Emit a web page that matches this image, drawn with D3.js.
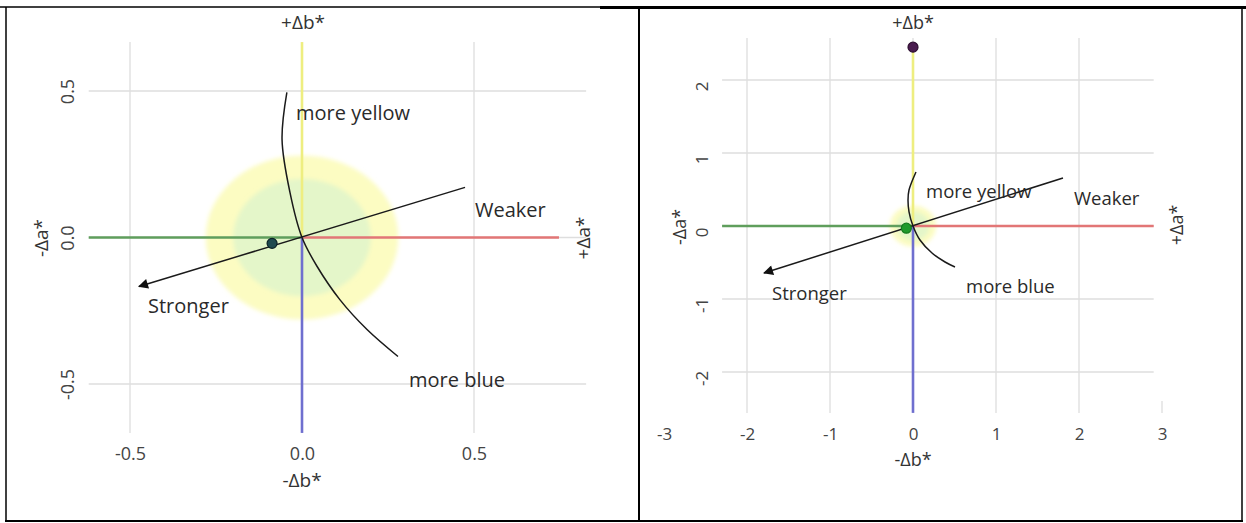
<!DOCTYPE html>
<html>
<head>
<meta charset="utf-8">
<script src="https://cdn.jsdelivr.net/npm/d3@7"></script>
<style>
  body { margin: 0; background: #fff; }
  svg { display: block; }
  text { font-family: 'Open Sans', 'Noto Sans', sans-serif; }
</style>
</head>
<body>
<svg id="chart" width="1246" height="523"></svg>
<script>
// left panel, zoomed in around the standard
const leftTicks = [-0.5, 0, 0.5];
const leftSamples = [[-0.087, -0.02]];
const leftHueArc = [[-0.044, 0.495], [-0.058, 0.334], [-0.035, 0.154], [0, 0],
  [0.044, -0.099], [0.11, -0.212], [0.189, -0.314], [0.279, -0.406]];
const leftChromaArrow = [[0.474, 0.171], [-0.474, -0.167]];

// right panel, wider view
const rightXTicks = [-3, -2, -1, 0, 1, 2, 3];
const rightYTicks = [-2, -1, 0, 1, 2];
const rightSamples = [[0, 2.45], [-0.08, -0.03]];
const rightHueArc = [[0.036, 0.74], [-0.048, 0.493], [-0.06, 0.356], [-0.048, 0.192], [0, 0],
  [0.084, -0.192], [0.229, -0.37], [0.386, -0.493], [0.506, -0.562]];
const rightChromaArrow = [[1.807, 0.658], [-1.795, -0.644]];

// tolerance zones round the standard (outer, inner)
const toleranceRadii = [0.28, 0.2];
const annotationTexts = ['more yellow', 'Weaker', 'Stronger', 'more blue'];

// plain hyphen for negatives, like the original
const locale = d3.formatLocale({ decimal: '.', thousands: ',', grouping: [3], currency: ['', ''], minus: '-' });

const svg = d3.select('#chart');
const defs = svg.append('defs');

defs.append('marker')
  .attr('id', 'arrowHead')
  .attr('viewBox', '0 0 10 10')
  .attr('refX', 9).attr('refY', 5)
  .attr('markerWidth', 15).attr('markerHeight', 10)
  .attr('markerUnits', 'userSpaceOnUse')
  .attr('orient', 'auto')
  .append('path')
  .attr('d', 'M0,0L10,5L0,10z')
  .attr('fill', '#111');

defs.append('filter').attr('id', 'soft')
  .attr('x', '-50%').attr('y', '-50%').attr('width', '200%').attr('height', '200%')
  .append('feGaussianBlur').attr('stdDeviation', 2);

const panels = [
  {
    x: d3.scaleLinear().domain([-0.5, 0.5]).range([130, 474]),
    y: d3.scaleLinear().domain([-0.5, 0.5]).range([384, 91]),
    xTicks: leftTicks, yTicks: leftTicks, fmt: locale.format('.1f'),
    xMin: -0.62, xMax: 0.826, yMin: -0.667, yMax: 0.667, redEnd: 0.747, yellowTop: 0.667,
    stub: null,
    samples: leftSamples, sampleFill: ['#1f4a4f'], sampleStroke: ['#0b2226'],
    arc: leftHueArc, arrow: leftChromaArrow,
    tickSize: 18, nameSize: 19, textSize: 20,
    xAxisY: 447, yLabelX: 68, yLabelOff: 0,
    bTop: [303, 29], bBottom: [302, 487], aLeft: [41, 238], aRight: [583, 238],
    labelPos: [[296, 120], [475, 217], [148, 313], [409, 387]]
  },
  {
    x: d3.scaleLinear().domain([-2, 2]).range([747, 1079]),
    y: d3.scaleLinear().domain([-2, 2]).range([372, 80]),
    xTicks: rightXTicks, yTicks: rightYTicks, fmt: locale.format('d'),
    xMin: -2.3, xMax: 2.9, yMin: -2.56, yMax: 2.575, redEnd: 2.9, yellowTop: rightSamples[0][1],
    stub: 3,
    samples: rightSamples, sampleFill: ['#4a1c4f', '#1f9a2c'], sampleStroke: ['#2e0f31', '#137a1e'],
    arc: rightHueArc, arrow: rightChromaArrow,
    tickSize: 17, nameSize: 18, textSize: 18.5,
    xAxisY: 428, yLabelX: 702, yLabelOff: 6,
    bTop: [913, 29], bBottom: [913, 466], aLeft: [680, 227], aRight: [1177, 225],
    labelPos: [[926, 198], [1074, 205], [772, 300], [966, 293]]
  }
];

panels.forEach(drawPanel);

function drawPanel(p) {
  const g = svg.append('g');
  const { x, y } = p;

  // grid
  g.selectAll('.vgrid')
    .data(p.xTicks.filter(d => d >= p.xMin && d <= p.xMax))
    .join('line')
    .attr('x1', d => x(d)).attr('x2', d => x(d))
    .attr('y1', y(p.yMax)).attr('y2', y(p.yMin))
    .attr('stroke', '#dedede').attr('stroke-width', 1.3);

  g.selectAll('.hgrid')
    .data(p.yTicks)
    .join('line')
    .attr('x1', x(p.xMin)).attr('x2', x(p.xMax))
    .attr('y1', d => y(d)).attr('y2', d => y(d))
    .attr('stroke', '#dedede').attr('stroke-width', 1.3);

  if (p.stub !== null) {
    g.append('line')
      .attr('x1', x(p.stub)).attr('x2', x(p.stub))
      .attr('y1', y(p.yMin) - 12).attr('y2', y(p.yMin))
      .attr('stroke', '#dedede').attr('stroke-width', 1.3);
  }

  // tolerance zones
  const cx = x(0), cy = y(0);
  g.selectAll('.zone')
    .data(toleranceRadii)
    .join('ellipse')
    .attr('cx', cx).attr('cy', cy)
    .attr('rx', d => x(d) - cx).attr('ry', d => cy - y(d))
    .attr('fill', (d, i) => i === 0 ? '#fcfcc2' : '#e4f6c9')
    .attr('filter', 'url(#soft)');

  // coloured half axes
  const half = [
    { a: [p.xMin, 0], b: [0, 0], c: '#5f9e5c' },
    { a: [0, 0], b: [p.redEnd, 0], c: '#e27676' },
    { a: [0, 0], b: [0, p.yellowTop], c: '#eeee80' },
    { a: [0, 0], b: [0, p.yMin], c: '#6f6fcf' }
  ];
  g.selectAll('.half')
    .data(half)
    .join('line')
    .attr('x1', d => x(d.a[0])).attr('y1', d => y(d.a[1]))
    .attr('x2', d => x(d.b[0])).attr('y2', d => y(d.b[1]))
    .attr('stroke', d => d.c).attr('stroke-width', 2.6);

  // hue arc and chroma arrow
  const line = d3.line().x(d => x(d[0])).y(d => y(d[1]));
  g.append('path')
    .attr('d', line.curve(d3.curveCatmullRom)(p.arc))
    .attr('fill', 'none').attr('stroke', '#1a1a1a').attr('stroke-width', 1.5);

  g.append('path')
    .attr('d', d3.line().x(d => x(d[0])).y(d => y(d[1]))(p.arrow))
    .attr('fill', 'none').attr('stroke', '#1a1a1a').attr('stroke-width', 1.5)
    .attr('marker-end', 'url(#arrowHead)');

  // samples
  g.selectAll('.sample')
    .data(p.samples)
    .join('circle')
    .attr('cx', d => x(d[0])).attr('cy', d => y(d[1]))
    .attr('r', 5)
    .attr('fill', (d, i) => p.sampleFill[i])
    .attr('stroke', (d, i) => p.sampleStroke[i]).attr('stroke-width', 1.2);

  // x tick labels
  const xAxis = g.append('g')
    .attr('transform', `translate(0,${p.xAxisY})`)
    .call(d3.axisBottom(x).tickValues(p.xTicks).tickFormat(p.fmt).tickSize(0).tickPadding(0));
  xAxis.select('.domain').remove();
  xAxis.selectAll('text')
    .attr('fill', '#444').attr('font-size', p.tickSize)
    .attr('font-family', "'Open Sans', sans-serif");

  // y tick labels, turned on their side
  const yAxis = g.append('g')
    .attr('transform', `translate(${p.yLabelX},0)`)
    .call(d3.axisLeft(y).tickValues(p.yTicks).tickFormat(p.fmt).tickSize(0).tickPadding(0));
  yAxis.select('.domain').remove();
  yAxis.selectAll('text')
    .attr('x', null).attr('dy', '0.35em')
    .attr('text-anchor', 'middle')
    .attr('transform', `translate(0,${p.yLabelOff}) rotate(-90)`)
    .attr('fill', '#444').attr('font-size', p.tickSize)
    .attr('font-family', "'Open Sans', sans-serif");

  // axis names
  const names = g.append('g').attr('fill', '#333').attr('font-size', p.nameSize);
  names.append('text').attr('x', p.bTop[0]).attr('y', p.bTop[1])
    .attr('text-anchor', 'middle').text('+Δb*');
  names.append('text').attr('x', p.bBottom[0]).attr('y', p.bBottom[1])
    .attr('text-anchor', 'middle').text('-Δb*');
  names.append('text')
    .attr('transform', `translate(${p.aLeft[0]},${p.aLeft[1]}) rotate(-90)`)
    .attr('dy', '0.35em').attr('text-anchor', 'middle').text('-Δa*');
  names.append('text')
    .attr('transform', `translate(${p.aRight[0]},${p.aRight[1]}) rotate(-90)`)
    .attr('dy', '0.35em').attr('text-anchor', 'middle').text('+Δa*');

  // annotations
  g.selectAll('.note')
    .data(annotationTexts)
    .join('text')
    .attr('x', (d, i) => p.labelPos[i][0]).attr('y', (d, i) => p.labelPos[i][1])
    .attr('font-size', p.textSize).attr('fill', '#2a2a2a')
    .text(d => d);
}

// table frame
const frame = svg.append('g').attr('stroke', '#000');
frame.append('line').attr('x1', 0).attr('x2', 600).attr('y1', 7).attr('y2', 7).attr('stroke-width', 1.5);
frame.append('line').attr('x1', 600).attr('x2', 1246).attr('y1', 7.5).attr('y2', 7.5).attr('stroke-width', 3);
frame.append('line').attr('x1', 6).attr('x2', 6).attr('y1', 7).attr('y2', 522).attr('stroke-width', 1.5);
frame.append('line').attr('x1', 639).attr('x2', 639).attr('y1', 7).attr('y2', 522).attr('stroke-width', 2);
frame.append('line').attr('x1', 1242).attr('x2', 1242).attr('y1', 7).attr('y2', 522).attr('stroke-width', 1.5);
frame.append('line').attr('x1', 5).attr('x2', 1243).attr('y1', 521).attr('y2', 521).attr('stroke-width', 2);
</script>
</body>
</html>
